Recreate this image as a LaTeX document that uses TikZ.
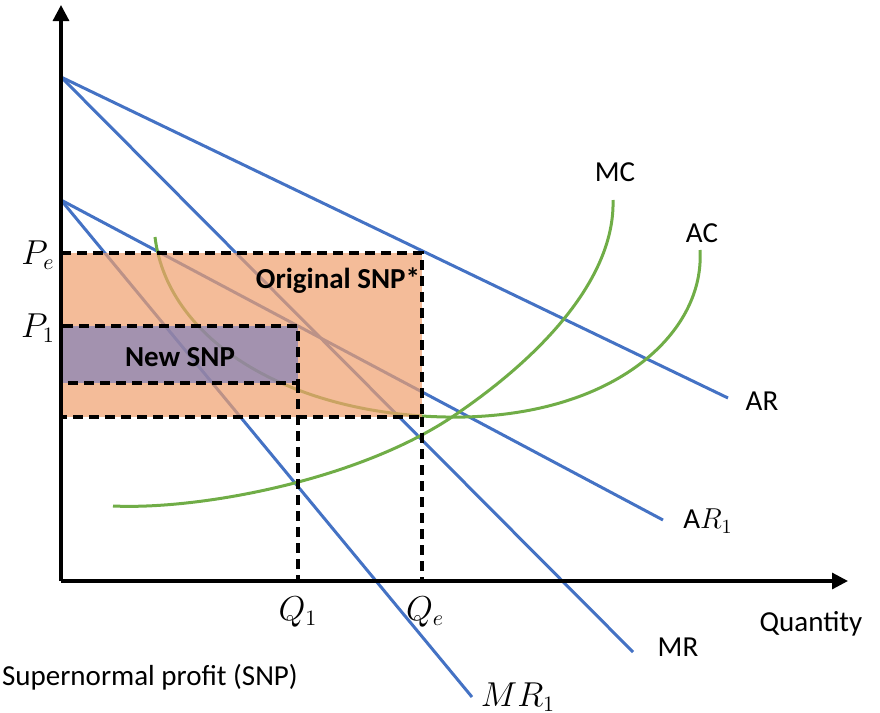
\documentclass[tikz,border=0pt]{standalone}
\usepackage{fontspec}
\setmainfont{Carlito}
\usetikzlibrary{arrows.meta}
\definecolor{lineblue}{RGB}{68,114,196}
\definecolor{linegreen}{RGB}{112,173,71}
\definecolor{snporange}{RGB}{240,160,110}
\definecolor{snppurple}{RGB}{110,120,190}
\tikzstyle{axis} = [line width=1.6pt, -{Triangle[length=8pt,width=8pt]}]
\tikzstyle{revenue} = [line width=1.5pt, lineblue]
\tikzstyle{cost} = [line width=1.5pt, linegreen]
\tikzstyle{guide} = [line width=1.7pt, dash pattern=on 5pt off 3pt]
\tikzstyle{lbl} = [font=\fontsize{14.5}{17}\selectfont, inner sep=1pt]
\tikzstyle{mathlbl} = [font=\fontsize{16}{18}\selectfont, inner sep=1pt]

\begin{document}
\begin{tikzpicture}[x=0.5pt, y=-0.5pt]
    \useasboundingbox (0,0) rectangle (880,713);

    % Points
    \coordinate (Origin) at (61,581);
    \coordinate (YTop) at (61,5);
    \coordinate (XEnd) at (848,581);
    \coordinate (ARStart) at (61,77);
    \coordinate (AREnd) at (728,398);
    \coordinate (MREnd) at (633,652);
    \coordinate (ARoneStart) at (61,200);
    \coordinate (ARoneEnd) at (663,520);
    \coordinate (MRoneEnd) at (472,697);
    \coordinate (Pe) at (61,253);
    \coordinate (Pone) at (61,326);
    \coordinate (OrigCorner) at (422,417); % AC at Qe
    \coordinate (NewCorner) at (298,383); % AC at Q1
    \coordinate (QeBase) at (422,581);
    \coordinate (QoneBase) at (298,581);

    % Revenue lines
    \draw[revenue] (ARStart) -- (AREnd);
    \draw[revenue] (ARStart) -- (MREnd);
    \draw[revenue] (ARoneStart) -- (ARoneEnd);
    \draw[revenue] (ARoneStart) -- (MRoneEnd);

    % Cost curves
    \draw[cost] (113,506) .. controls (200,510) and (360,480) .. (455,415)
        .. controls (555,347) and (615,270) .. (613,200);
    \draw[cost] (155,237) .. controls (168,345) and (300,420) .. (465,417)
        .. controls (620,413) and (705,330) .. (700,250);

    % SNP areas
    \draw[guide, fill=snporange, fill opacity=0.7] (Pe) rectangle (OrigCorner);
    \draw[guide, fill=snppurple, fill opacity=0.6] (Pone) rectangle (NewCorner);
    \draw[guide] (OrigCorner) -- (QeBase);
    \draw[guide] (NewCorner) -- (QoneBase);

    % Axes
    \draw[axis] (Origin) -- (YTop);
    \draw[axis] (Origin) -- (XEnd);

    % Labels
    \node[lbl] (mc) at (615,172) {MC};
    \node[lbl] (ac) at (702,233) {AC};
    \node[lbl] (ar) at (762,401) {AR};
    \node[lbl] (arone) at (708,521) {A$R_1$};
    \node[lbl] (mr) at (678,647) {MR};
    \node[mathlbl] (mrone) at (518,697) {$MR_1$};
    \node[lbl] (qty) at (811,624) {Quantity};
    \node[lbl] (key) at (150,677) {Supernormal profit (SNP)};
    \node[mathlbl] (qone) at (298,612) {$Q_1$};
    \node[mathlbl] (qe) at (425,612) {$Q_e$};
    \node[mathlbl] (pe) at (38,255) {$P_e$};
    \node[mathlbl] (pone) at (38,328) {$P_1$};
    \node[lbl, font=\fontsize{14.5}{17}\selectfont\bfseries] (orig) at (338,281) {Original SNP*};
    \node[lbl, font=\fontsize{14.5}{17}\selectfont\bfseries] (new) at (180,357) {New SNP};

\end{tikzpicture}
\end{document}
